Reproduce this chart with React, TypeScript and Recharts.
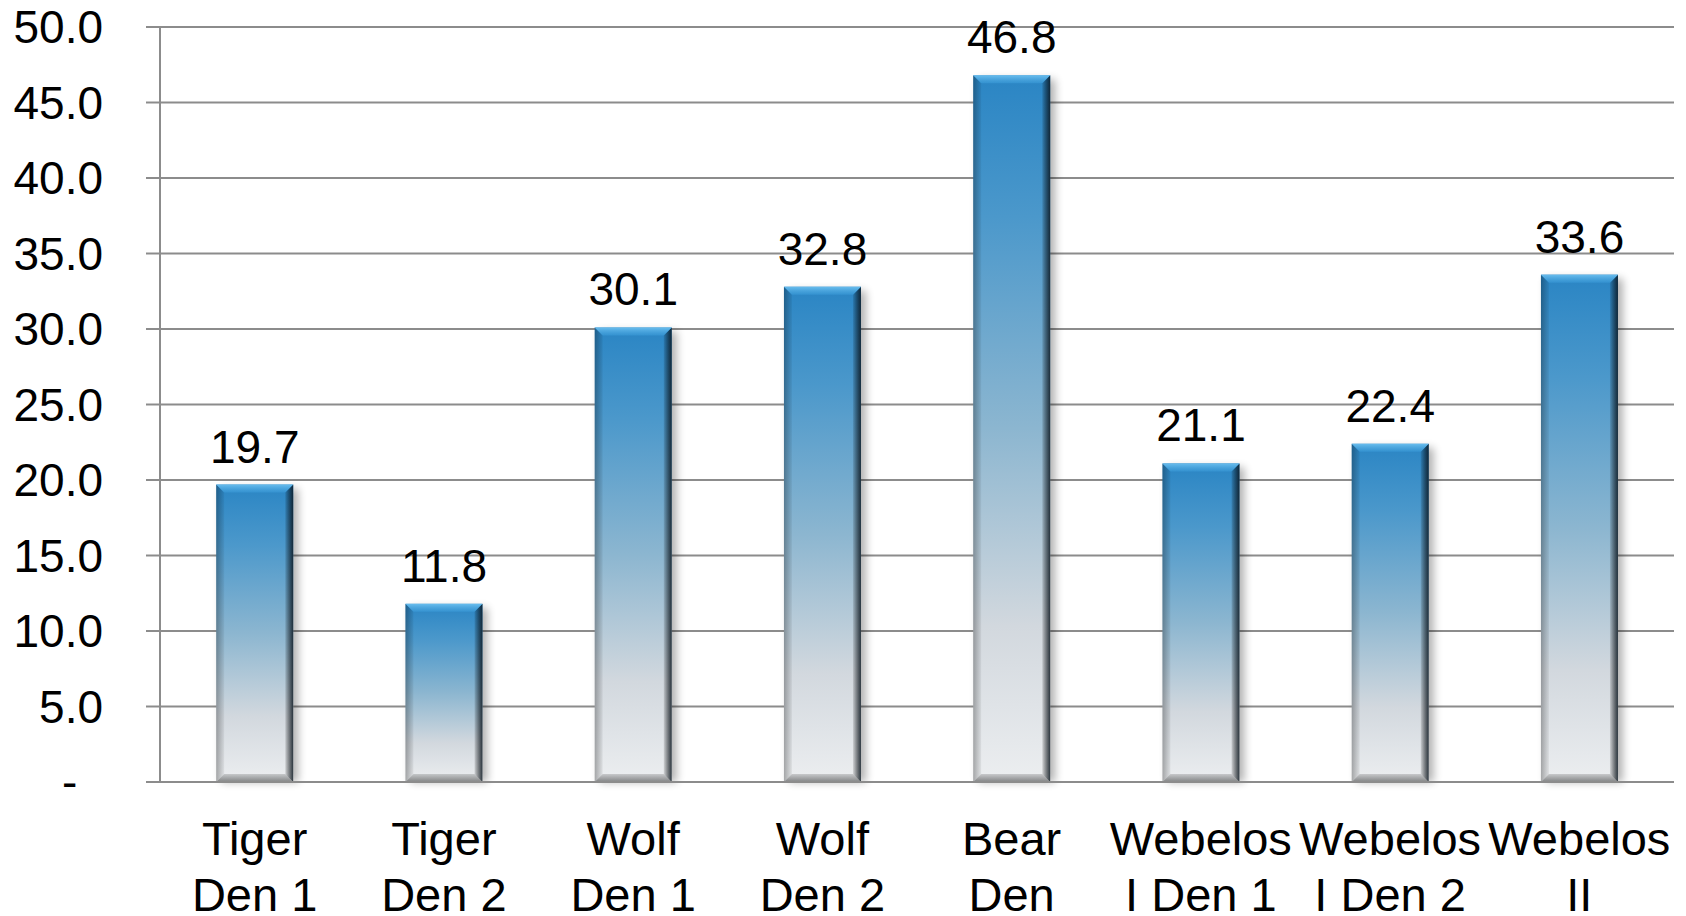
import React from "react";
import {
  BarChart,
  Bar,
  XAxis,
  YAxis,
  CartesianGrid,
  LabelList,
} from "recharts";

const dens = [
  "Tiger Den 1",
  "Tiger Den 2",
  "Wolf Den 1",
  "Wolf Den 2",
  "Bear Den",
  "Webelos I Den 1",
  "Webelos I Den 2",
  "Webelos II",
];

const denLines = [
  ["Tiger", "Den 1"],
  ["Tiger", "Den 2"],
  ["Wolf", "Den 1"],
  ["Wolf", "Den 2"],
  ["Bear", "Den"],
  ["Webelos", "I Den 1"],
  ["Webelos", "I Den 2"],
  ["Webelos", "II"],
];

const values = [19.7, 11.8, 30.1, 32.8, 46.8, 21.1, 22.4, 33.6];

const yTicks = [0, 5, 10, 15, 20, 25, 30, 35, 40, 45, 50];
const edgeTicks = [0, 1, 2, 3, 4, 5, 6, 7, 8];

const data = dens.map((den, i) => ({ den, value: values[i] }));

const FONT = '"Liberation Sans", Arial, sans-serif';
const GRID = "#8c8c8c";

function BevelBar(props: any) {
  const { x, y, width: w, height: h } = props;
  if (!h || h <= 0) return null;
  const b = 8;
  return (
    <g>
      <rect
        x={x + 5}
        y={y + 4}
        width={w}
        height={h - 4}
        fill="#000"
        opacity={0.3}
        filter="url(#barShadow)"
      />
      <rect x={x} y={y} width={w} height={h} fill="url(#barFill)" />
      <polygon
        points={`${x},${y} ${x + b},${y + b} ${x + b},${y + h - b} ${x},${y + h}`}
        fill="url(#leftEdge)"
      />
      <polygon
        points={`${x + w},${y} ${x + w - b},${y + b} ${x + w - b},${y + h - b} ${x + w},${y + h}`}
        fill="url(#rightEdge)"
      />
      <polygon
        points={`${x},${y} ${x + w},${y} ${x + w - b},${y + b} ${x + b},${y + b}`}
        fill="url(#topEdge)"
      />
      <polygon
        points={`${x},${y + h} ${x + w},${y + h} ${x + w - b},${y + h - b} ${x + b},${y + h - b}`}
        fill="url(#bottomEdge)"
      />
    </g>
  );
}

function DenTick(props: any) {
  const { x, y, index } = props;
  const lines = denLines[index] || [props.payload.value];
  return (
    <text
      x={x}
      y={y}
      textAnchor="middle"
      fontSize={47}
      fontFamily={FONT}
      fill="#000"
    >
      <tspan x={x} y={y + 73}>
        {lines[0]}
      </tspan>
      <tspan x={x} y={y + 129}>
        {lines[1]}
      </tspan>
    </text>
  );
}

const formatY = (v: number) => (v === 0 ? "-\u00a0\u00a0" : v.toFixed(1));

export default function App() {
  return (
    <div style={{ position: "absolute", left: 0, top: 0, background: "#fff" }}>
      <BarChart
        width={1686}
        height={916}
        data={data}
        margin={{ top: 27, right: 12, bottom: 0, left: 0 }}
        barCategoryGap="29.7%"
        style={{ fontFamily: FONT }}
      >
        <defs>
          <linearGradient id="barFill" x1="0" y1="0" x2="0" y2="1">
            <stop offset="0%" stopColor="#2a85c4" />
            <stop offset="20%" stopColor="#4b98cb" />
            <stop offset="50%" stopColor="#8cb6d0" />
            <stop offset="78%" stopColor="#d2d8de" />
            <stop offset="100%" stopColor="#eceef0" />
          </linearGradient>
          <linearGradient id="leftEdge" x1="0" y1="0" x2="1" y2="0">
            <stop offset="0%" stopColor="#000" stopOpacity={0.3} />
            <stop offset="100%" stopColor="#000" stopOpacity={0.05} />
          </linearGradient>
          <linearGradient id="rightEdge" x1="0" y1="0" x2="1" y2="0">
            <stop offset="0%" stopColor="#000" stopOpacity={0.1} />
            <stop offset="100%" stopColor="#0a1620" stopOpacity={0.85} />
          </linearGradient>
          <linearGradient id="topEdge" x1="0" y1="0" x2="0" y2="1">
            <stop offset="0%" stopColor="#6cc0f0" stopOpacity={0.95} />
            <stop offset="100%" stopColor="#3a9ad8" stopOpacity={0.6} />
          </linearGradient>
          <linearGradient id="bottomEdge" x1="0" y1="0" x2="0" y2="1">
            <stop offset="0%" stopColor="#000" stopOpacity={0.15} />
            <stop offset="100%" stopColor="#000" stopOpacity={0.45} />
          </linearGradient>
          <filter id="barShadow" x="-30%" y="-10%" width="160%" height="120%">
            <feGaussianBlur stdDeviation="4" />
          </filter>
        </defs>

        <CartesianGrid vertical={false} stroke={GRID} strokeWidth={2} />

        <XAxis
          xAxisId="edges"
          type="number"
          domain={[0, 8]}
          ticks={edgeTicks}
          height={0}
          tick={false}
          axisLine={false}
          tickSize={15}
          tickLine={{ stroke: GRID, strokeWidth: 2 }}
        />
        <XAxis
          dataKey="den"
          height={134}
          interval={0}
          tickLine={false}
          tickSize={0}
          tickMargin={0}
          axisLine={{ stroke: GRID, strokeWidth: 2 }}
          tick={<DenTick />}
        />
        <YAxis
          width={160}
          domain={[0, 50]}
          ticks={yTicks}
          interval={0}
          tickFormatter={formatY}
          tickSize={14}
          tickMargin={43}
          tick={{ fontSize: 46, fill: "#000", fontFamily: FONT }}
          tickLine={{ stroke: GRID, strokeWidth: 2 }}
          axisLine={{ stroke: GRID, strokeWidth: 2 }}
        />

        <Bar dataKey="value" shape={<BevelBar />} isAnimationActive={false}>
          <LabelList
            dataKey="value"
            position="top"
            offset={22}
            formatter={(v: any) => Number(v).toFixed(1)}
            style={{ fontSize: 46, fill: "#000", fontFamily: FONT }}
          />
        </Bar>
      </BarChart>
    </div>
  );
}
